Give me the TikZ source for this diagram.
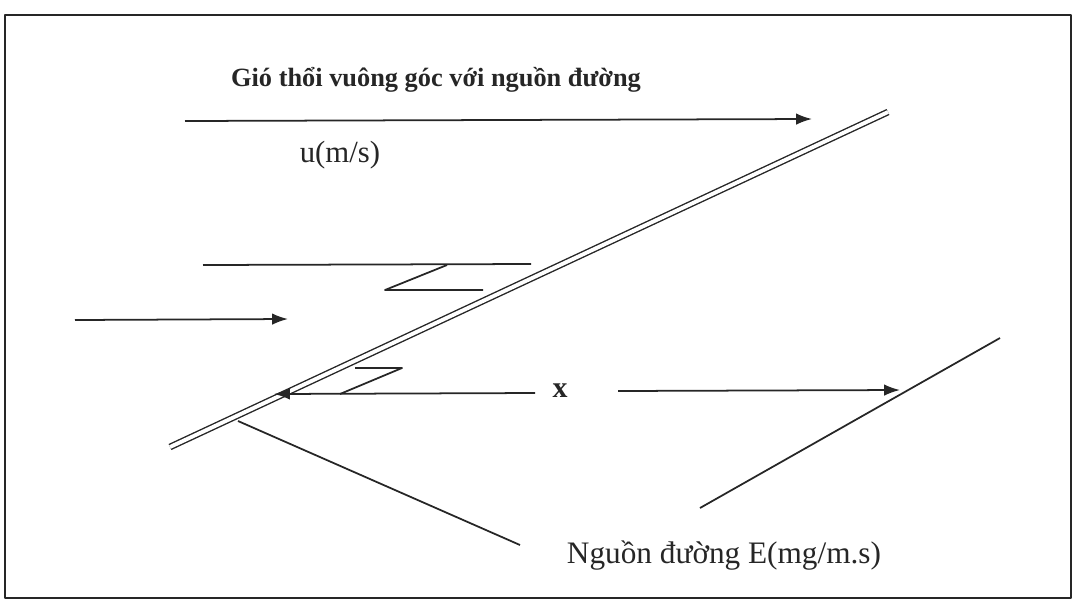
\documentclass[tikz,border=0pt]{standalone}
\usepackage{fontspec}
\setmainfont{Liberation Serif}
\usetikzlibrary{arrows.meta}
\begin{document}
\begin{tikzpicture}[x=0.02cm, y=-0.02cm, line join=round, line cap=butt, >={Latex[length=9pt,width=6.5pt]}, line width=1pt, color=black!85]
					\useasboundingbox (0,0) rectangle (1072,600);
					\draw[line width=1.2pt] (5,15) rectangle (1071,598);
					\node (title) at (436,80) {\fontsize{15}{17}\selectfont\bfseries Gió thổi vuông góc với nguồn đường};
					\node (u) at (340,155) {\fontsize{17.5}{20}\selectfont u(m/s)};
					\node (x) at (560,391) {\fontsize{17}{20}\selectfont\bfseries x};
					\node (E) at (724,556) {\fontsize{17.8}{20}\selectfont Nguồn đường E(mg/m.s)};
					\coordinate (s1) at (170,447);
					\coordinate (s2) at (888,112);
					\draw[double, double distance=2.2pt, line width=0.8pt] (s1)--(s2);
					\draw[->] (185,121)--(812,119);
					\draw[->] (75,320)--(288,319);
					\draw (203,265)--(531,264);
					\draw (447,265)--(385,290)--(483,290);
					\draw (355,368)--(402,368)--(340,394);
					\draw[->] (535,393)--(274,394);
					\draw[->] (618,391)--(900,390);
					\draw (700,508)--(1000,338);
					\draw (238,421)--(520,545);
				\end{tikzpicture}
\end{document}
